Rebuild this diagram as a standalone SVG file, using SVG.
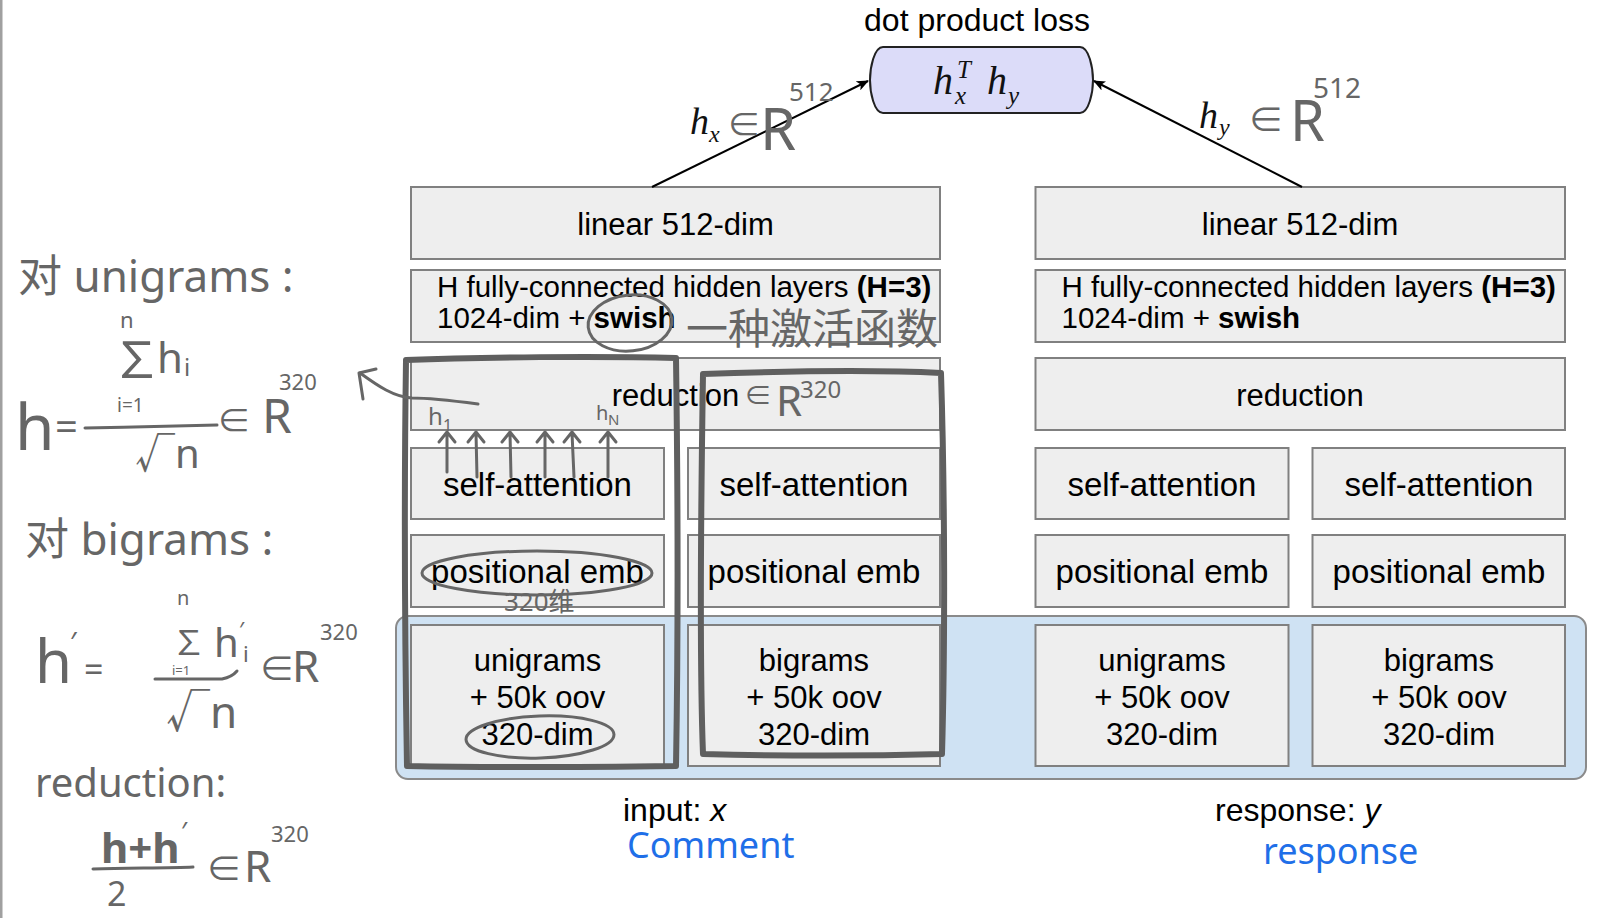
<svg xmlns="http://www.w3.org/2000/svg" width="1606" height="918" viewBox="0 0 1606 918">
<defs>
<marker id="ah" markerWidth="12" markerHeight="10" refX="11" refY="5" orient="auto" markerUnits="userSpaceOnUse">
<path d="M0,0 L12,5 L0,10 L3,5 Z" fill="#000"/>
</marker>
</defs>
<style>
.box{fill:#eeeeee;stroke:#808080;stroke-width:2}
.t{font-family:"Liberation Sans",Arial,sans-serif;fill:#000}
.c{text-anchor:middle}
.m{font-family:"Liberation Serif","Times New Roman",serif;font-style:italic;fill:#111}
.hw{font-family:"Noto Sans","Noto Sans CJK SC",sans-serif;fill:#666}
.hs{fill:none;stroke:#666;stroke-width:3;stroke-linecap:round;stroke-linejoin:round}
.hb{fill:none;stroke:#5f5f5f;stroke-width:6;stroke-linecap:round;stroke-linejoin:round}
.blue{font-family:"Noto Sans",sans-serif;fill:#1f6fe8}
.conn{stroke:#000;stroke-width:2;fill:none}
</style>
<rect x="0" y="0" width="1606" height="918" fill="#fff"/>
<rect x="0" y="0" width="2.5" height="918" fill="#a0a0a0"/>

<g id="input-group">
<rect x="396" y="616" width="1190" height="163" rx="12" fill="#cfe2f3" stroke="#8a8a8a" stroke-width="2"/>
</g>

<g id="loss">
<text class="t c" x="977" y="31" font-size="32">dot product loss</text>
<path d="M883,47 L1080,47 C1089,47 1093,68 1093,80 C1093,92 1089,113 1080,113 L883,113 C874,113 870,92 870,80 C870,68 874,47 883,47 Z" fill="#dcdcf9" stroke="#222" stroke-width="2"/>
<text class="m" x="933" y="94" font-size="40">h</text>
<text class="m" x="957" y="78" font-size="25">T</text>
<text class="m" x="955" y="104" font-size="25">x</text>
<text class="m" x="987" y="94" font-size="40">h</text>
<text class="m" x="1008" y="104" font-size="25">y</text>
</g>

<g id="x-linear"><rect class="box" x="411" y="187" width="529" height="72"/><text class="t c" x="675.5" y="235" font-size="31">linear 512-dim</text></g>
<g id="x-hidden"><rect class="box" x="411" y="270" width="529" height="72"/><text class="t" x="437" y="297" font-size="29.5">H fully-connected hidden layers <tspan font-weight="bold">(H=3)</tspan></text><text class="t" x="437" y="328" font-size="29.5">1024-dim + <tspan font-weight="bold">swish</tspan></text></g>
<g id="x-reduction"><rect class="box" x="411" y="358" width="529" height="72"/><text class="t c" x="675.5" y="406" font-size="31">reduction</text></g>
<g id="x-sa1"><rect class="box" x="411" y="448" width="253" height="71"/><text class="t c" x="537.5" y="496" font-size="33">self-attention</text></g>
<g id="x-sa2"><rect class="box" x="688" y="448" width="252" height="71"/><text class="t c" x="814" y="496" font-size="33">self-attention</text></g>
<g id="x-pe1"><rect class="box" x="411" y="535" width="253" height="72"/><text class="t c" x="537.5" y="583" font-size="33">positional emb</text></g>
<g id="x-pe2"><rect class="box" x="688" y="535" width="252" height="72"/><text class="t c" x="814" y="583" font-size="33">positional emb</text></g>
<g id="x-uni"><rect class="box" x="411" y="625" width="253" height="141"/><text class="t c" x="537.5" y="671" font-size="31">unigrams</text><text class="t c" x="537.5" y="708" font-size="31">+ 50k oov</text><text class="t c" x="537.5" y="745" font-size="31">320-dim</text></g>
<g id="x-bi"><rect class="box" x="688" y="625" width="252" height="141"/><text class="t c" x="814" y="671" font-size="31">bigrams</text><text class="t c" x="814" y="708" font-size="31">+ 50k oov</text><text class="t c" x="814" y="745" font-size="31">320-dim</text></g>
<g id="x-label"><text class="t" x="623" y="821" font-size="32">input: <tspan font-style="italic">x</tspan></text></g>

<g id="y-linear"><rect class="box" x="1035.5" y="187" width="529.5" height="72"/><text class="t c" x="1300" y="235" font-size="31">linear 512-dim</text></g>
<g id="y-hidden"><rect class="box" x="1035.5" y="270" width="529.5" height="72"/><text class="t" x="1061.5" y="297" font-size="29.5">H fully-connected hidden layers <tspan font-weight="bold">(H=3)</tspan></text><text class="t" x="1061.5" y="328" font-size="29.5">1024-dim + <tspan font-weight="bold">swish</tspan></text></g>
<g id="y-reduction"><rect class="box" x="1035.5" y="358" width="529.5" height="72"/><text class="t c" x="1300" y="406" font-size="31">reduction</text></g>
<g id="y-sa1"><rect class="box" x="1035.5" y="448" width="253" height="71"/><text class="t c" x="1162" y="496" font-size="33">self-attention</text></g>
<g id="y-sa2"><rect class="box" x="1312.5" y="448" width="252.5" height="71"/><text class="t c" x="1439" y="496" font-size="33">self-attention</text></g>
<g id="y-pe1"><rect class="box" x="1035.5" y="535" width="253" height="72"/><text class="t c" x="1162" y="583" font-size="33">positional emb</text></g>
<g id="y-pe2"><rect class="box" x="1312.5" y="535" width="252.5" height="72"/><text class="t c" x="1439" y="583" font-size="33">positional emb</text></g>
<g id="y-uni"><rect class="box" x="1035.5" y="625" width="253" height="141"/><text class="t c" x="1162" y="671" font-size="31">unigrams</text><text class="t c" x="1162" y="708" font-size="31">+ 50k oov</text><text class="t c" x="1162" y="745" font-size="31">320-dim</text></g>
<g id="y-bi"><rect class="box" x="1312.5" y="625" width="252.5" height="141"/><text class="t c" x="1439" y="671" font-size="31">bigrams</text><text class="t c" x="1439" y="708" font-size="31">+ 50k oov</text><text class="t c" x="1439" y="745" font-size="31">320-dim</text></g>
<g id="y-label"><text class="t" x="1215" y="821" font-size="32">response: <tspan font-style="italic">y</tspan></text></g>

<g id="connectors">
<line class="conn" x1="652" y1="187" x2="868" y2="81" marker-end="url(#ah)"/>
<line class="conn" x1="1302" y1="187" x2="1094" y2="81" marker-end="url(#ah)"/>
</g>

<g id="edge-labels">
<text class="m" x="690" y="134" font-size="38">h</text><text class="m" x="709" y="142" font-size="24">x</text>
<text class="hw" x="727" y="137" font-size="34">∈</text><text class="hw" x="760" y="150" font-size="58">R</text><text class="hw" x="789" y="101" font-size="26">512</text>
<text class="m" x="1199" y="128" font-size="38">h</text><text class="m" x="1219" y="135" font-size="24">y</text>
<text class="hw" x="1248" y="133" font-size="36">∈</text><text class="hw" x="1290" y="141" font-size="56">R</text><text class="hw" x="1313" y="98" font-size="28">512</text>
</g>

<g id="annotations">
<path class="hb" d="M406,360 C404,500 405,650 407,766 C500,768 600,767 676,766 C678,650 678,500 676,358 C600,356 480,357 406,360 Z"/>
<path class="hb" d="M703,374 C701,500 699,650 703,754 C780,756 870,756 942,754 C945,650 945,500 941,373 C860,369 760,372 703,374 Z"/>
<ellipse class="hs" cx="630" cy="323" rx="42" ry="28" transform="rotate(-6 630 323)"/>
<text class="hw" x="686" y="344" font-size="42">一种激活函数</text>
<text class="hw" x="744" y="406" font-size="28">∈</text><text class="hw" x="776" y="416" font-size="42">R</text><text class="hw" x="800" y="398" font-size="24">320</text>
<path class="hs" d="M478,404 C455,401 432,398 412,398 C394,397 378,386 360,373"/>
<path class="hs" d="M376,369 L359,373 L363,399"/>
<text class="hw" x="428" y="425" font-size="24">h</text><text class="hw" x="443" y="431" font-size="16">1</text>
<text class="hw" x="596" y="420" font-size="20">h</text><text class="hw" x="608" y="425" font-size="15">N</text>
<path class="hs" d="M447,472 L447,433 M439,442 L447,432 L455,442"/>
<path class="hs" d="M477,477 L476,433 M468,442 L476,432 L484,442"/>
<path class="hs" d="M511,477 L510,433 M502,442 L510,432 L518,442"/>
<path class="hs" d="M545,477 L545,433 M537,442 L545,432 L553,442"/>
<path class="hs" d="M574,477 L572,433 M564,442 L572,432 L580,442"/>
<path class="hs" d="M608,477 L608,433 M600,442 L608,432 L616,442"/>
<ellipse class="hs" cx="537" cy="573" rx="115" ry="22"/>
<text class="hw" x="504" y="611" font-size="26">320维</text>
<ellipse class="hs" cx="540" cy="737" rx="74" ry="21" transform="rotate(-2 540 737)"/>

<text class="hw" x="18" y="292" font-size="44">对 unigrams :</text>
<text class="hw" x="15" y="450" font-size="64">h</text>
<text class="hw" x="55" y="441" font-size="40">=</text>
<text class="hw" x="120" y="328" font-size="22">n</text>
<text class="hw" x="112" y="378" font-size="50">∑</text>
<text class="hw" x="157" y="373" font-size="42">h</text><text class="hw" x="184" y="376" font-size="24">i</text>
<text class="hw" x="117" y="412" font-size="19">i=1</text>
<path class="hs" d="M85,428 C130,427 180,426 217,425"/>
<text class="hw" x="135" y="468" font-size="40">√n</text>
<text class="hw" x="217" y="433" font-size="34">∈</text><text class="hw" x="262" y="433" font-size="48">R</text>
<text class="hw" x="279" y="390" font-size="22">320</text>

<text class="hw" x="25" y="555" font-size="44">对 bigrams :</text>
<text class="hw" x="35" y="683" font-size="60">h</text><text class="hw" x="70" y="652" font-size="28">′</text>
<text class="hw" x="84" y="682" font-size="34">=</text>
<text class="hw" x="177" y="605" font-size="20">n</text>
<text class="hw" x="172" y="655" font-size="34">∑</text>
<text class="hw" x="214" y="657" font-size="40">h</text><text class="hw" x="239" y="638" font-size="22">′</text><text class="hw" x="243" y="662" font-size="22">i</text>
<text class="hw" x="172" y="675" font-size="13">i=1</text>
<path class="hs" d="M155,679 L222,679 Q232,677 237,671"/>
<text class="hw" x="166" y="728" font-size="44">√n</text>
<text class="hw" x="259" y="682" font-size="36">∈</text><text class="hw" x="292" y="682" font-size="44">R</text>
<text class="hw" x="320" y="640" font-size="22">320</text>

<text class="hw" x="35" y="797" font-size="40">reduction:</text>
<text class="hw" x="101" y="863" font-size="42" font-weight="bold">h+h</text><text class="hw" x="181" y="840" font-size="26">′</text>
<path class="hs" d="M93,869 C130,868 170,868 193,867"/>
<text class="hw" x="107" y="906" font-size="34">2</text>
<text class="hw" x="206" y="882" font-size="36">∈</text><text class="hw" x="244" y="882" font-size="44">R</text>
<text class="hw" x="271" y="842" font-size="22">320</text>

<text class="blue" x="627" y="858" font-size="36">Comment</text>
<text class="blue" x="1263" y="864" font-size="36">response</text>
</g>
</svg>
